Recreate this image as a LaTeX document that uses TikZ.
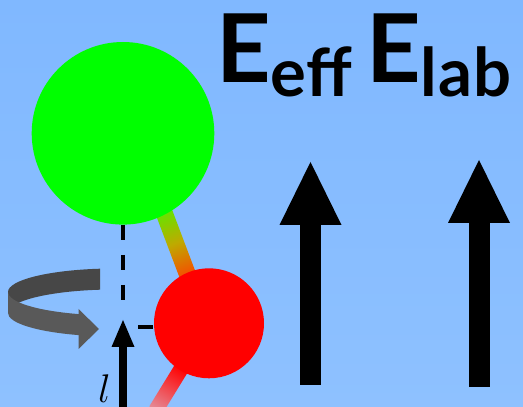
\RequirePackage{fix-cm}
\documentclass[tikz,border=0pt]{standalone}
\usepackage{fontspec}
\usetikzlibrary{arrows.meta}
\newfontfamily\labelfont{Lato}
\definecolor{bgtop}{RGB}{128,184,255}
\definecolor{bgbot}{RGB}{142,193,255}
\definecolor{atomgreen}{RGB}{0,255,0}
\definecolor{atomred}{RGB}{255,0,0}
\definecolor{ribbonback}{RGB}{71,71,71}
\definecolor{ribbonfront}{RGB}{89,89,89}
\newcommand{\fseta}{\draw[-{Triangle[width=62pt,length=63pt,line width=0pt]},line width=21pt]}
\newcommand{\lseta}{\draw[-{Triangle[width=23pt,length=27pt,line width=0pt]},line width=7.5pt]}

\begin{document}
\begin{tikzpicture}[x=1pt,y=1pt,
    atom/.style={circle,inner sep=0pt,draw=none},
    axisdash/.style={line width=4.5pt,dash pattern=on 15pt off 15pt},
    field/.style={inner sep=0pt,anchor=base west,font=\labelfont\bfseries\fontsize{95}{100}\selectfont}]

      \useasboundingbox (0,0) rectangle (523,407);
      \fill[top color=bgtop,bottom color=bgbot] (0,0) rectangle (523,407);

      % centres
      \coordinate(gc) at (123,273.7);
      \coordinate(rc) at (209,83.7);
      \coordinate(bond) at (134,274);

      % bonds
      \begin{scope}[transform canvas={shift={(bond)},rotate=-69.3}]
        \shade[left color={rgb,255:red,90;green,235;blue,0},
               right color={rgb,255:red,250;green,70;blue,0},
               middle color={rgb,255:red,190;green,170;blue,0}]
          (80,-8.5) rectangle (155,8.5);
      \end{scope}
      \begin{scope}[transform canvas={shift={(rc)},rotate=-121.5}]
        \shade[left color=atomred,right color={rgb,255:red,228;green,140;blue,152}]
          (52,-7.5) rectangle (102,7.5);
      \end{scope}

      % axis
      \coordinate(axbot) at (123,0);
      \coordinate(axtip) at (123,87);
      \coordinate(axtop) at (123,102);
      \coordinate(axmid) at (123,80);

      \draw[axisdash,dash phase=15pt] (axmid) -- (axmid -| rc);

      % atoms
      \node(green) [atom,fill=atomgreen,minimum size=182.6pt] at (gc) {};
      \node(red)   [atom,fill=atomred,minimum size=110pt]    at (rc) {};

      \draw[axisdash] (green.south) -- (axtop);
      \lseta (axbot) -- (axtip);
      \node(l) [inner sep=0pt,anchor=base west,font=\fontsize{40}{44}\selectfont] at (98,4) {$l$};

      % rotation ribbon
      \fill[ribbonback] (100,138.3) arc[start angle=98.06,end angle=180,x radius=107,y radius=23.5]
        -- ++(0,-21) arc[start angle=180,end angle=98.06,x radius=107,y radius=23.5] -- cycle;
      \fill[ribbonfront] (8,115) arc[start angle=180,end angle=250.3,x radius=107,y radius=23.5]
        -- ++(0,-21) arc[start angle=250.3,end angle=180,x radius=107,y radius=23.5] -- cycle;
      \fill[ribbonfront] (78.5,98) -- (99,78) -- (78.5,58) -- cycle;

      % fields
      \node(eeff) [field] at (216,324) {E\raisebox{-14pt}{\fontsize{67}{70}\selectfont eff}};
      \node(elab) [field] at (366,324) {E\raisebox{-14pt}{\fontsize{67}{70}\selectfont l\kern1pt a\kern1pt b}};

      \coordinate(effbot) at (310.5,22);
      \coordinate(efftip) at (310.5,245);
      \coordinate(labbot) at (479,20);
      \coordinate(labtip) at (479,247);

      \fseta (effbot) -- (efftip);
      \fseta (labbot) -- (labtip);
\end{tikzpicture}
\end{document}
